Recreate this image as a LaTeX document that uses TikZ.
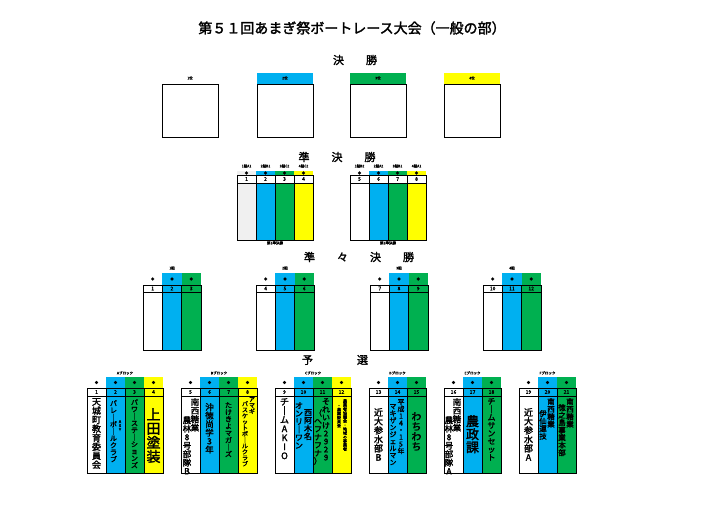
\documentclass[tikz,border=0pt]{standalone}
\usepackage{fontspec}
\newfontfamily\jp[FakeBold=2]{Noto Sans CJK JP}
\ExplSyntaxOn
\NewDocumentCommand\vt{m}{\seq_clear:N \l_tmpa_seq\tl_map_inline:nn{#1}{\seq_put_right:Nn \l_tmpa_seq{##1}}\seq_use:Nn \l_tmpa_seq{\\}}
\ExplSyntaxOff
\definecolor{cb}{HTML}{00B0F0}
\definecolor{cg}{HTML}{00B050}
\definecolor{cy}{HTML}{FFFF00}
\definecolor{cw}{HTML}{FFFFFF}
\definecolor{cgr}{HTML}{F0F0F0}
\tikzset{
 box/.style={line width=0.8pt},
 tiny/.style={font=\jp\fontsize{3.5}{4}\selectfont,inner sep=0},
 num/.style={font=\jp\fontsize{5}{6}\selectfont,inner sep=0},
 head/.style={font=\jp\fontsize{11}{12}\selectfont,inner sep=0},
 vtx/.style={align=center,inner sep=0,anchor=north},
}
\newcommand\grp[7]{%
 \foreach \i/\c/\n in {#7}{%
  \fill[\c] (#1+\i*#6,#2) rectangle (#1+\i*#6+#6,#5);
  \draw[box] (#1+\i*#6,#3) rectangle (#1+\i*#6+#6,#5);
  \draw[box] (#1+\i*#6,#4) -- (#1+\i*#6+#6,#4);
  \node[num] at (#1+\i*#6+#6/2,{(#3+#4)/2}) {\n};
  \node[tiny] at (#1+\i*#6+#6/2,{(#2+#3)/2}) {●};
 }}
\begin{document}
\begin{tikzpicture}[x=1pt,y=-1pt]
\useasboundingbox (0,0) rectangle (710,505);
\node[font=\jp\fontsize{14}{15}\selectfont,inner sep=0] (title) at (352,28) {第５１回あまぎ祭ボートレース大会（一般の部）};
\node[head] (hf) at (355,60) {決　　勝};
\foreach \x/\c/\t [count=\k] in {162/cw/1位,257/cb/2位,350/cg/3位,444/cy/4位}{
 \fill[\c] (\x,73) rectangle (\x+56,84);
 \node[tiny] (fl\k) at (\x+28,78) {\t};
 \draw[box] (\x,84) rectangle (\x+56,137);
}
\node[head] (hs) at (337,157) {準　　決　　勝};
\grp{237}{171}{175}{183}{240}{19}{0/cgr/1,1/cb/2,2/cg/3,3/cy/4}
\grp{350}{171}{175}{183}{240}{19}{0/cw/5,1/cb/6,2/cg/7,3/cy/8}
\foreach \x/\a/\b/\cc/\d/\s in {237/1組A1/2組B1/3組C2/4組C2/1,350/1組B2/2組A2/3組B1/4組A1/2}{
 \fill[white] (\x,175) rectangle (\x+76,183);
 \foreach \i in {0,1,2,3}{\draw[box] (\x+\i*19,175) rectangle (\x+\i*19+19,183);}
 \node[tiny] at (\x+9.5,166) {\a};\node[tiny] at (\x+28.5,166) {\b};
 \node[tiny] at (\x+47.5,166) {\cc};\node[tiny] at (\x+66.5,166) {\d};
 \node[tiny] (sl\s) at (\x+38,243) {第\s 準決勝};
}
\foreach \x/\k in {237/1,350/5}{
 \foreach \i in {0,1,2,3}{\pgfmathtruncatemacro\m{\k+\i}\node[num] at (\x+\i*19+9.5,179) {\m};}}
\node[head] (hq) at (359,257) {準　　々　　決　　勝};
\grp{143}{273}{285}{292}{350}{19.3}{0/cw/1,1/cb/2,2/cg/3}
\grp{256}{273}{285}{292}{350}{19.3}{0/cw/4,1/cb/5,2/cg/6}
\grp{370}{273}{285}{292}{350}{19.3}{0/cw/7,1/cb/8,2/cg/9}
\grp{483}{273}{285}{292}{350}{19.3}{0/cw/10,1/cb/11,2/cg/12}
\foreach \x/\t [count=\k] in {143/1組,256/2組,370/3組,483/4組}{\node[tiny] (ql\k) at (\x+29,268) {\t};}
\node[head] (hp) at (335,360) {予　　　　選};
\grp{87}{377}{388}{396}{473}{19}{0/cw/1,1/cb/2,2/cg/3,3/cy/4}
\grp{181}{377}{388}{396}{473}{19}{0/cw/5,1/cb/6,2/cg/7,3/cy/8}
\grp{275}{377}{388}{396}{473}{19}{0/cw/9,1/cb/10,2/cg/11,3/cy/12}
\grp{369}{377}{388}{396}{473}{19}{0/cw/13,1/cb/14,2/cg/15}
\grp{444}{377}{388}{396}{473}{19}{0/cw/16,1/cb/17,2/cg/18}
\grp{519}{377}{388}{396}{473}{19}{0/cw/19,1/cb/20,2/cg/21}
\foreach \x/\t [count=\k] in {125/Aブロック,219/Bブロック,313/Cブロック,397.5/Dブロック,472.5/Eブロック,547.5/Fブロック}{\node[tiny] (pl\k) at (\x,373) {\t};}
\def\fs#1{\jp\fontsize{#1}{#1}\selectfont}
\node[vtx,font=\fs{9}] (t1) at (96.5,398) {\vt{天城町教育委員会}};
\node[vtx,font=\fs{7}] (t2) at (113.5,400) {\vt{バレ｜ボ｜ルクラブ}};
\node[vtx,font=\fs{4}] (t2b) at (120,420) {\vt{ASY}};
\node[vtx,font=\fs{7}] (t3) at (134.5,399) {\vt{パワ｜ステ｜ションズ}};
\node[vtx,font=\fs{14}] (t4) at (153.5,408) {\vt{上田塗装}};
\node[vtx,font=\fs{8.5}] (t5a) at (195,398) {\vt{南西糖業}};
\node[vtx,font=\fs{8.5}] (t5b) at (187,416) {\vt{農林8号部隊B}};
\node[vtx,font=\fs{8.5}] (t6) at (209.5,403) {\vt{沖徳尚学3年}};
\node[vtx,font=\fs{7}] (t7) at (228.5,402) {\vt{たけきよマガ｜ズ}};
\node[vtx,font=\fs{6}] (t8a) at (245,401) {\vt{バスケットボ｜ルクラブ}};
\node[vtx,font=\fs{6}] (t8b) at (252,397) {\vt{アマギ}};
\node[vtx,font=\fs{9}] (t9) at (284.5,398) {\vt{チ｜ムAKIO}};
\node[vtx,font=\fs{8}] (t10a) at (308,409) {\vt{西阿木名}};
\node[vtx,font=\fs{8}] (t10b) at (299,402) {\vt{オンリ｜ワン}};
\node[vtx,font=\fs{8}] (t11a) at (326,398) {\vt{それいけ2929}};
\node[vtx,font=\fs{8}] (t11b) at (318,409) {\vt{（ヘフナフナ）}};
\node[vtx,font=\fs{4}] (t12a) at (345,399) {\vt{農業者協議会・地域の事業者}};
\node[vtx,font=\fs{4}] (t12b) at (339,405) {\vt{・農業委員会}};
\node[vtx,font=\fs{9}] (t13) at (378.5,408) {\vt{近大参水部B}};
\node[vtx,font=\fs{7}] (t14a) at (401,399) {\vt{平成14・15年}};
\node[vtx,font=\fs{7}] (t14b) at (393,404) {\vt{マキザンジェルマン}};
\node[vtx,font=\fs{10}] (t15) at (416.5,412) {\vt{わちわち}};
\node[vtx,font=\fs{8.5}] (t16a) at (457,398) {\vt{南西糖業}};
\node[vtx,font=\fs{8.5}] (t16b) at (449,416) {\vt{農林8号部隊A}};
\node[vtx,font=\fs{13}] (t17) at (472.5,415) {\vt{農政課}};
\node[vtx,font=\fs{8}] (t18) at (491.5,398) {\vt{チ｜ムサンセット}};
\node[vtx,font=\fs{9}] (t19) at (528.5,408) {\vt{近大参水部A}};
\node[vtx,font=\fs{7.5}] (t20a) at (551,398) {\vt{南西糖業}};
\node[vtx,font=\fs{7.5}] (t20b) at (543,410) {\vt{伊仙運技}};
\node[vtx,font=\fs{7.5}] (t21a) at (570,398) {\vt{南西糖業}};
\node[vtx,font=\fs{7.5}] (t21b) at (562,404) {\vt{徳之島事業本部}};
\end{tikzpicture}
\end{document}
